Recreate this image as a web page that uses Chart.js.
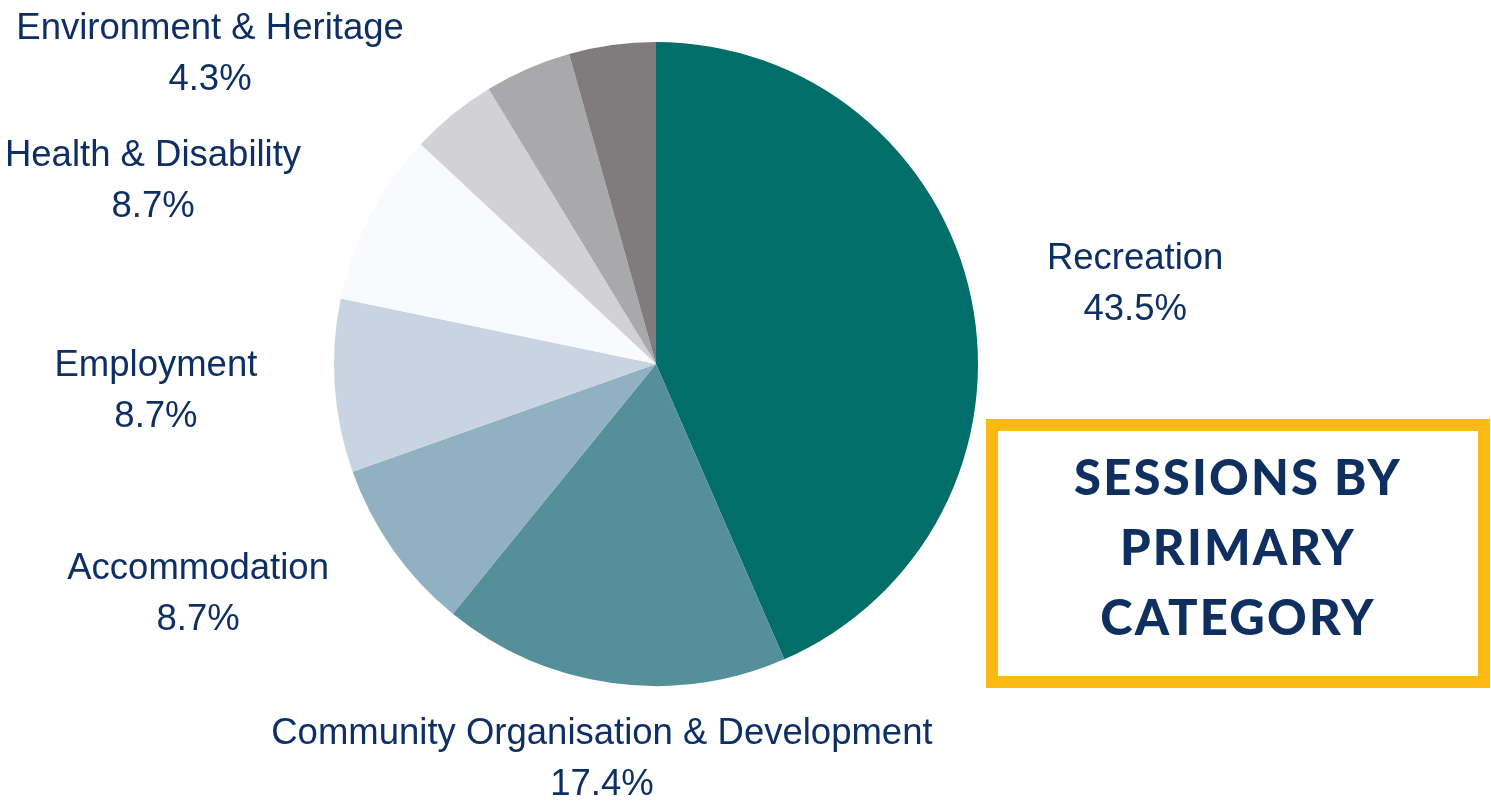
<!DOCTYPE html>
<html>
<head>
<meta charset="utf-8">
<script src="https://cdn.jsdelivr.net/npm/chart.js@4.4.1/dist/chart.umd.min.js"></script>
<style>
    html, body { margin: 0; padding: 0; background: #ffffff; }
    #wrap { position: relative; width: 1491px; height: 805px; }
    #title-box {
        position: absolute; left: 986px; top: 419px; width: 480px; height: 245px;
        border: 12px solid #fdb913; background: #fff;
        display: flex; flex-direction: column; justify-content: center; align-items: center;
        font-family: Lato, sans-serif; font-weight: 900; font-size: 49px; line-height: 70px;
        letter-spacing: 2.2px; color: #0e2f5f; text-align: center;
    }
    #title-box div { position: relative; top: -8px; }
</style>
</head>
<body>
<div id="wrap">
    <canvas id="chart" width="1491" height="805"></canvas>
    <div id="title-box"><div>SESSIONS BY</div><div>PRIMARY</div><div>CATEGORY</div></div>
</div>
<script>
const categories = ['Recreation', 'Community Organisation & Development', 'Accommodation', 'Employment',
    'Health & Disability', 'Environment & Heritage', 'Unlabelled 1', 'Unlabelled 2'];
const sessions = [10, 4, 2, 2, 2, 1, 1, 1];
const sliceColors = ['#026e6a', '#558f9a', '#91b0c1', '#c8d4e2', '#f9fafe', '#d2d1d6', '#a9a8ab', '#807c7e'];
const shownLabels = [0, 1, 2, 3, 4, 5];

// label anchor offsets from the pie centre, in units of the radius
const labelLayout = {
    0: [1.488, -0.253],
    1: [-0.168, 1.224],
    2: [-1.422, 0.711],
    3: [-1.553, 0.081],
    4: [-1.562, -0.571],
    5: [-1.385, -0.966]
};

const outsideLabels = {
    id: 'outsideLabels',
    afterDraw(chart) {
        const ctx = chart.ctx;
        const arcs = chart.getDatasetMeta(0).data;
        const total = sessions.reduce((a, b) => a + b, 0);
        ctx.save();
        ctx.fillStyle = '#0d2f64';
        ctx.font = '36.5px "Liberation Sans", Arial, sans-serif';
        ctx.textAlign = 'center';
        ctx.textBaseline = 'middle';
        shownLabels.forEach(i => {
            const arc = arcs[i];
            const r = arc.outerRadius;
            const x = arc.x + labelLayout[i][0] * r;
            const y = arc.y + labelLayout[i][1] * r;
            const pct = (sessions[i] / total * 100).toFixed(1) + '%';
            ctx.fillText(categories[i], x, y - 24);
            ctx.fillText(pct, x, y + 27);
        });
        ctx.restore();
    }
};

new Chart(document.getElementById('chart'), {
    type: 'pie',
    data: {
        labels: categories,
        datasets: [{
            data: sessions,
            backgroundColor: sliceColors,
            borderWidth: 0
        }]
    },
    options: {
        responsive: false,
        animation: false,
        layout: { padding: { top: 42, bottom: 119, left: 0, right: 179 } },
        plugins: {
            legend: { display: false },
            tooltip: { enabled: false }
        }
    },
    plugins: [outsideLabels]
});
</script>
</body>
</html>
